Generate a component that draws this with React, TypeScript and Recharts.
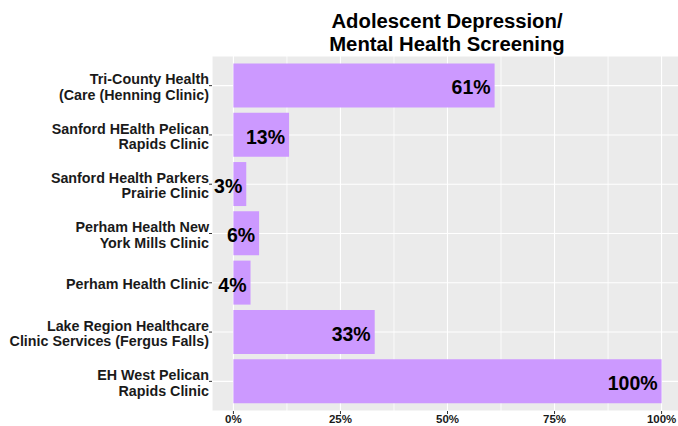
import React from "react";
import { BarChart, Bar, XAxis, YAxis, CartesianGrid, LabelList } from "recharts";

const clinics = [
  "Tri-County Health\n(Care (Henning Clinic)",
  "Sanford HEalth Pelican\nRapids Clinic",
  "Sanford Health Parkers\nPrairie Clinic",
  "Perham Health New\nYork Mills Clinic",
  "Perham Health Clinic",
  "Lake Region Healthcare\nClinic Services (Fergus Falls)",
  "EH West Pelican\nRapids Clinic",
];
const screened = [61, 13, 3, 6, 4, 33, 100];
const majorTicks = [0, 25, 50, 75, 100];
const minorTicks = [12.5, 37.5, 62.5, 87.5];
const xDomain = [-5, 105];

const data = clinics.map((name, i) => ({ name, value: screened[i] }));

const FONT = "'Liberation Sans', Arial, sans-serif";
const PANEL = "#EBEBEB";
const BAR = "#CC99FF";

function ClinicTick({ x, y, payload }: any) {
  const lines = String(payload.value).split("\n");
  const lh = 15.5;
  const start = y + 1.5 - ((lines.length - 1) * lh) / 2;
  return (
    <text x={x} textAnchor="end" fontFamily={FONT} fontWeight="bold" fontSize={14.3} fill="#1a1a1a">
      {lines.map((l, i) => (
        <tspan key={i} x={x} y={start + i * lh} dominantBaseline="central">
          {l}
        </tspan>
      ))}
    </text>
  );
}

function PctTick({ x, y, payload }: any) {
  return (
    <text x={x} y={y + 7} textAnchor="middle" fontFamily={FONT} fontWeight="bold" fontSize={11.5} fill="#1a1a1a">
      {payload.value}%
    </text>
  );
}

function ValueLabel({ x, y, width, height, value }: any) {
  return (
    <text
      x={x + width - 4}
      y={y + height / 2 + 2}
      textAnchor="end"
      dominantBaseline="central"
      fontFamily={FONT}
      fontWeight="bold"
      fontSize={19.5}
      fill="#000"
    >
      {value}%
    </text>
  );
}

// minor grid: map the minor breaks through the same linear domain as the x axis
const minorLines = ({ xAxis, offset }: any) => {
  if (xAxis && typeof xAxis.scale === "function") return minorTicks.map((t) => xAxis.scale(t));
  const [d0, d1] = xDomain;
  return minorTicks.map((t) => offset.left + ((t - d0) / (d1 - d0)) * offset.width);
};

export default function App() {
  return (
    <div style={{ position: "absolute", left: 0, top: 0, width: 678, height: 426, overflow: "hidden", background: "#fff" }}>
      <div
        style={{
          position: "absolute",
          left: 247,
          width: 400,
          top: 10,
          textAlign: "center",
          fontFamily: FONT,
          fontWeight: "bold",
          fontSize: 20.3,
          lineHeight: "23px",
          color: "#000",
        }}
      >
        Adolescent Depression/
        <br />
        Mental Health Screening
      </div>
      <div style={{ position: "absolute", left: 0, top: 0 }}>
        <BarChart
          width={683}
          height={426}
          data={data}
          layout="vertical"
          barCategoryGap="5%"
          margin={{ top: 56, right: 0, bottom: 0, left: 0 }}
        >
          <CartesianGrid fill={PANEL} stroke="#fff" strokeWidth={1.1} vertical horizontal />
          <CartesianGrid stroke="#fff" strokeWidth={0.8} horizontal={false} verticalCoordinatesGenerator={minorLines} />
          <XAxis
            type="number"
            domain={xDomain}
            ticks={majorTicks}
            height={15}
            axisLine={false}
            tickLine={{ stroke: "#333" }}
            tickSize={3}
            tick={<PctTick />}
          />
          <YAxis
            type="category"
            dataKey="name"
            width={212}
            padding={{ top: 5, bottom: 5 }}
            axisLine={false}
            tickLine={{ stroke: "#333" }}
            tickSize={3}
            tickMargin={0}
            tick={<ClinicTick />}
            interval={0}
          />
          <Bar dataKey="value" fill={BAR} isAnimationActive={false}>
            <LabelList dataKey="value" content={<ValueLabel />} />
          </Bar>
        </BarChart>
      </div>
    </div>
  );
}
